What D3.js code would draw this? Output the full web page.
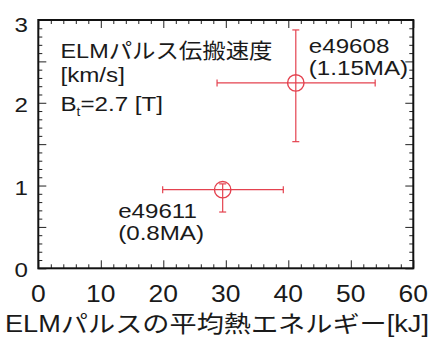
<!DOCTYPE html>
<html>
<head>
<meta charset="utf-8">
<script src="https://cdn.jsdelivr.net/npm/d3@7"></script>
<style>
  html, body { margin: 0; padding: 0; background: #fff; }
  svg { display: block; }
  text { font-family: "Liberation Sans", "Noto Sans CJK JP", sans-serif; fill: #1a1a1a; }
</style>
</head>
<body>
<svg id="chart" width="433" height="338"></svg>
<script>
// ELM pulse propagation speed vs. mean thermal energy of the ELM pulse
const shots    = ["e49608", "e49611"];
const currents = ["(1.15MA)", "(0.8MA)"];
const energy   = [41.2, 29.5];   // kJ
const energyLo = [28.6, 19.9];
const energyHi = [53.9, 39.2];
const speed    = [2.24, 0.95];   // km/s
const speedLo  = [1.53, 0.68];
const speedHi  = [2.88, 1.02];

const xTickValues = [0, 10, 20, 30, 40, 50, 60];
const yTickValues = [0, 1, 2, 3];
const xTitle = "ELMパルスの平均熱エネルギー[kJ]";
const infoTitle = "ELMパルス伝搬速度";
const infoUnit = "[km/s]";

const plotL = 38.3, plotR = 413.3, plotT = 20, plotB = 268.3;
const SX = 1.15; // wide glyph proportion of the lettering

const svg = d3.select("#chart");
const x = d3.scaleLinear().domain([0, 60]).range([plotL, plotR]);
const y = d3.scaleLinear().domain([0, 3]).range([plotB, plotT]);

function label(g, str, px, py, anchor, size) {
  return g.append("text")
    .attr("transform", `translate(${px},${py}) scale(${SX},1)`)
    .attr("text-anchor", anchor)
    .attr("font-size", size)
    .text(str);
}

// inward ticks on all four sides
const xMinor = d3.range(0, 61, 2).filter(v => v % 10 !== 0);
const yMinor = d3.range(0, 31, 1).map(v => v / 10).filter(v => Math.round(v * 10) % 5 !== 0);
const yMajor = d3.range(0, 7).map(v => v / 2);

function addAxis(axisFn, scale, values, len, tr) {
  const g = svg.append("g").attr("transform", tr)
    .call(axisFn(scale).tickValues(values).tickSize(-len).tickFormat(""));
  g.select(".domain").remove();
  g.selectAll(".tick line").attr("stroke", "#222").attr("stroke-width", 1);
}
addAxis(d3.axisBottom, x, xTickValues, 8, `translate(0,${plotB})`);
addAxis(d3.axisBottom, x, xMinor, 4, `translate(0,${plotB})`);
addAxis(d3.axisTop, x, xTickValues, 8, `translate(0,${plotT})`);
addAxis(d3.axisTop, x, xMinor, 4, `translate(0,${plotT})`);
addAxis(d3.axisLeft, y, yMajor, 8, `translate(${plotL},0)`);
addAxis(d3.axisLeft, y, yMinor, 4, `translate(${plotL},0)`);
addAxis(d3.axisRight, y, yMajor, 8, `translate(${plotR},0)`);
addAxis(d3.axisRight, y, yMinor, 4, `translate(${plotR},0)`);

// frame
svg.append("rect")
  .attr("x", plotL).attr("y", plotT)
  .attr("width", plotR - plotL).attr("height", plotB - plotT)
  .attr("fill", "none").attr("stroke", "#111").attr("stroke-width", 2);

// tick labels
const labels = svg.append("g");
xTickValues.forEach(v => label(labels, String(v), x(v), 302, "middle", 23));
yTickValues.forEach(v => label(labels, String(v), 28, Math.max(y(v) + 9, 32), "end", 21));

// axis title
labels.append("text")
  .attr("x", 5).attr("y", 332)
  .attr("font-size", 23)
  .attr("textLength", 424).attr("lengthAdjust", "spacingAndGlyphs")
  .text(xTitle);

// info block
labels.append("text")
  .attr("x", 60.5).attr("y", 58)
  .attr("font-size", 21)
  .attr("textLength", 212).attr("lengthAdjust", "spacingAndGlyphs")
  .text(infoTitle);
label(labels, infoUnit, 60.5, 82, "start", 21);
const bt = label(labels, "B", 60.5, 111, "start", 21);
bt.append("tspan").attr("font-size", 12).attr("dy", 5).text("t");
bt.append("tspan").attr("dy", -5).text("=2.7 [T]");

// error bars and markers
const red = "#e4424f";
const cap = 3.5;
const marks = svg.append("g").attr("stroke", red).attr("stroke-width", 1.2).attr("fill", "none");
energy.forEach((e, i) => {
  const cx = x(e), cy = y(speed[i]);
  marks.append("line").attr("x1", x(energyLo[i])).attr("x2", x(energyHi[i])).attr("y1", cy).attr("y2", cy);
  marks.append("line").attr("x1", cx).attr("x2", cx).attr("y1", y(speedLo[i])).attr("y2", y(speedHi[i]));
  [energyLo[i], energyHi[i]].forEach(v =>
    marks.append("line").attr("x1", x(v)).attr("x2", x(v)).attr("y1", cy - cap).attr("y2", cy + cap));
  [speedLo[i], speedHi[i]].forEach(v =>
    marks.append("line").attr("x1", cx - cap).attr("x2", cx + cap).attr("y1", y(v)).attr("y2", y(v)));
  marks.append("circle").attr("cx", cx).attr("cy", cy).attr("r", 8.2).attr("stroke-width", 1.4);
});

// shot annotations
const ann = svg.append("g");
const annOffsets = [{dx: 13, dy: -30}, {dx: -104.5, dy: 28}];
shots.forEach((s, i) => {
  const cx = x(energy[i]), cy = y(speed[i]);
  const o = annOffsets[i];
  label(ann, s, cx + o.dx, cy + o.dy, "start", 21);
  label(ann, currents[i], cx + o.dx, cy + o.dy + 22, "start", 21);
});
</script>
</body>
</html>
